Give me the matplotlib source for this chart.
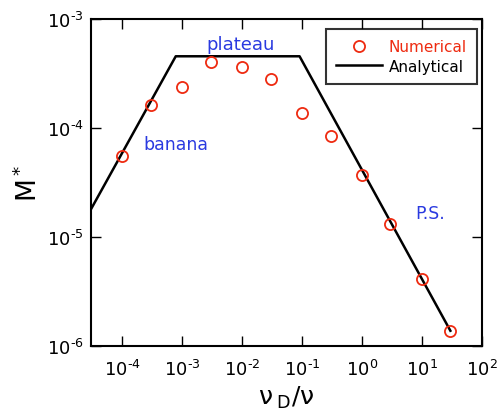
import matplotlib
matplotlib.use("Agg")
import matplotlib.pyplot as plt

# Numerical data
nu_num = [1e-4, 3e-4, 1e-3, 3e-3, 1e-2, 3e-2, 1e-1, 3e-1, 1, 3, 10, 30]
M_num = [5.57e-5, 1.64e-4, 2.39e-4, 4.03e-4, 3.63e-4, 2.82e-4, 1.38e-4,
         8.4e-5, 3.71e-5, 1.32e-5, 4.12e-6, 1.36e-6]

# Analytical piecewise line
nu_an = [3e-5, 7.8e-4, 9.1e-2, 30]
M_an = [1.8e-5, 4.55e-4, 4.55e-4, 1.38e-6]

xticks = [1e-4, 1e-3, 1e-2, 1e-1, 1, 10, 100]
xticklabels = [r'$10^{\text{-}4}$', r'$10^{\text{-}3}$', r'$10^{\text{-}2}$',
               r'$10^{\text{-}1}$', r'$10^{0}$', r'$10^{1}$', r'$10^{2}$']
yticks = [1e-6, 1e-5, 1e-4, 1e-3]
yticklabels = [r'$10^{\text{-}6}$', r'$10^{\text{-}5}$', r'$10^{\text{-}4}$',
               r'$10^{\text{-}3}$']

plt.rcParams['mathtext.fontset'] = 'dejavusans'
plt.rcParams['mathtext.default'] = 'regular'
fig = plt.figure(figsize=(4.97, 4.14), dpi=100)
ax = fig.add_axes([91/497, 1-347/414, (481.7-91)/497, (347-20)/414])

red = '#ee2a10'
blue = '#2a3ae0'

ln, = ax.plot(nu_an, M_an, color='black', lw=1.8, label='Analytical', zorder=2)
sc, = ax.plot(nu_num, M_num, 'o', mfc='none', mec=red, mew=1.3, ms=8,
              label='Numerical', zorder=3)

ax.set_xscale('log')
ax.set_yscale('log')
ax.set_xlim(3e-5, 1e2)
ax.set_ylim(1e-6, 1e-3)
ax.set_xticks(xticks)
ax.set_xticklabels(xticklabels)
ax.set_yticks(yticks)
ax.set_yticklabels(yticklabels)
ax.minorticks_off()
ax.tick_params(direction='in', length=7, width=1, top=True, right=True,
               labelsize=13)
ax.tick_params(axis='x', pad=9)
ax.tick_params(axis='y', pad=5)
for s in ax.spines.values():
    s.set_linewidth(1.5)

ax.set_xlabel(r'$\nu_{\;\mathrm{D}}/\nu$', fontsize=18, labelpad=4)
ax.set_ylabel(r'M$^*$', fontsize=19, labelpad=3)

ax.text(9.6e-3, 5.9e-4, 'plateau', color=blue, fontsize=13, ha='center', va='center')
ax.text(7.8e-4, 7.1e-5, 'banana', color=blue, fontsize=12.5, ha='center', va='center')
ax.text(14, 1.66e-5, 'P.S.', color=blue, fontsize=12.5, ha='center', va='center')

leg = ax.legend(handles=[sc, ln], loc='upper right', bbox_to_anchor=(0.988, 0.969),
                borderaxespad=0, fontsize=11, frameon=True, fancybox=False,
                edgecolor='black', handlelength=3.0, borderpad=0.65,
                labelspacing=0.3, handletextpad=0.45, markerfirst=True)
leg.get_frame().set_linewidth(1.5)
leg.get_texts()[0].set_color(red)

fig.savefig('out.png', dpi=100)
